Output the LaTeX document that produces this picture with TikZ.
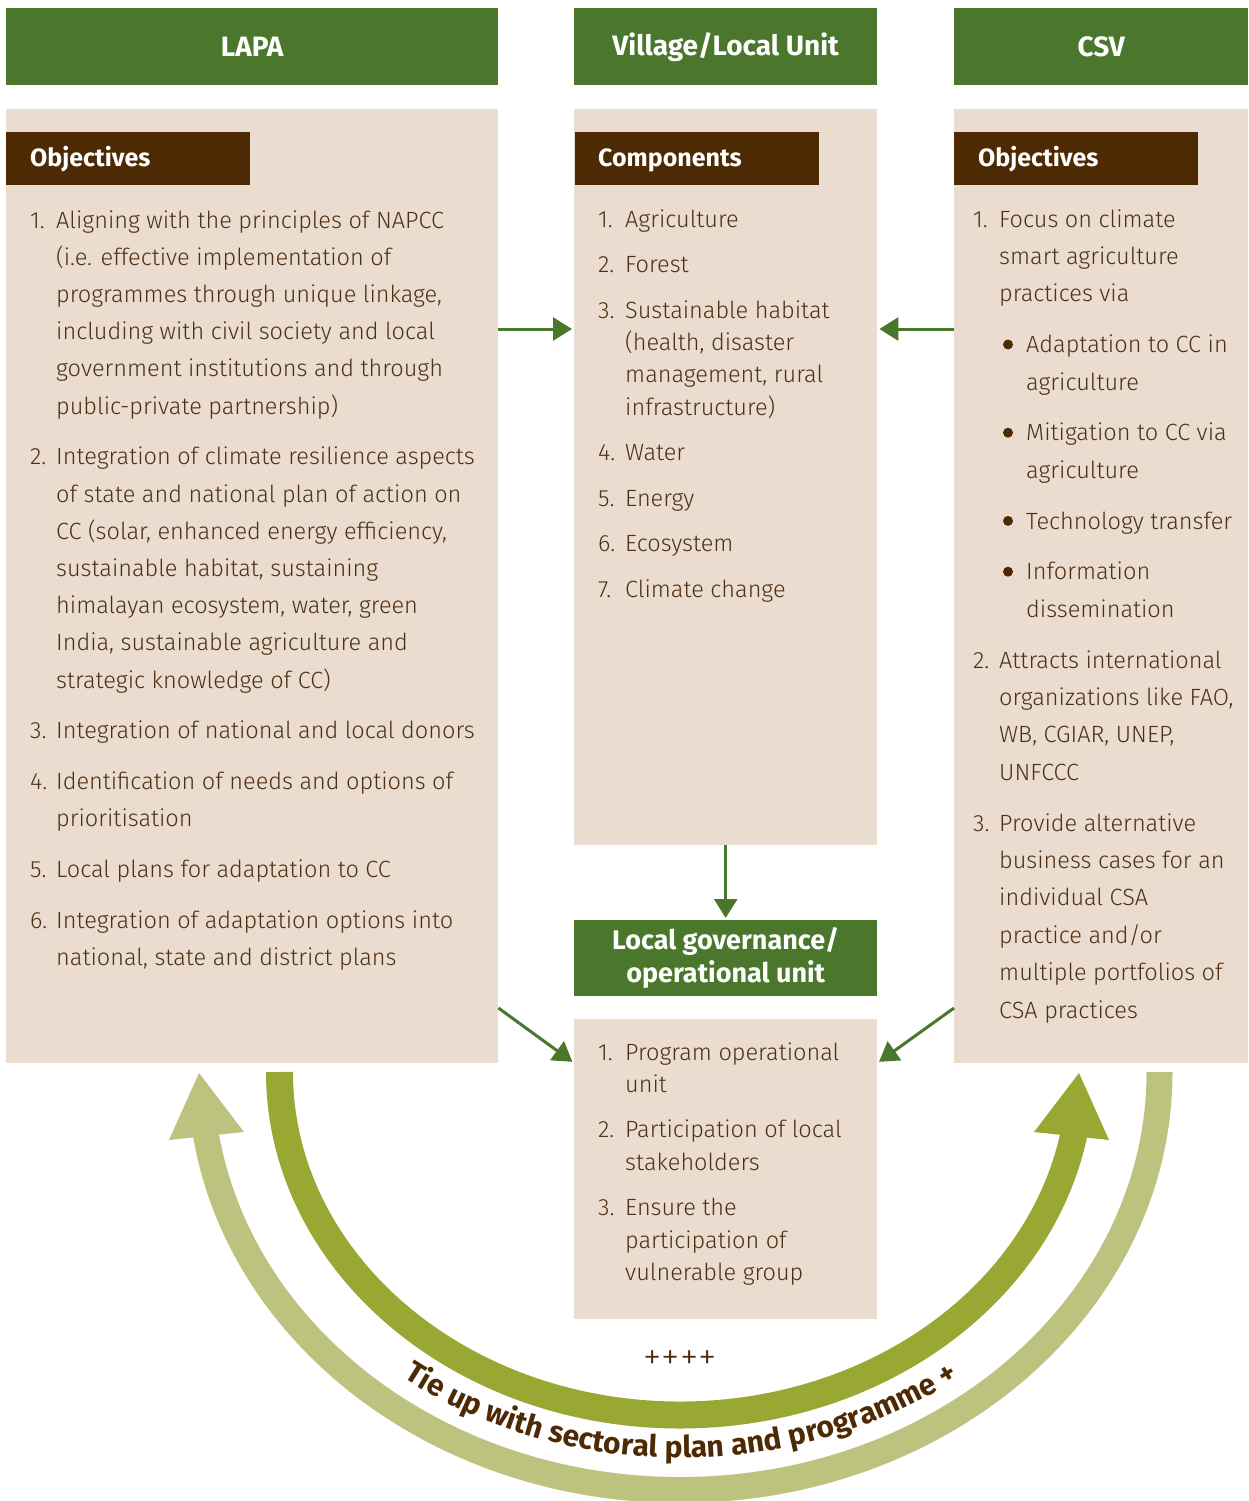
\documentclass[tikz,border=0pt]{standalone}
\usepackage{fontspec}
\setmainfont{Fira Sans}
\IfFontExistsTF{Fira Sans Light}{\newfontfamily\lightfont{Fira Sans Light}\definecolor{bodytxt}{HTML}{4F3014}}{\newcommand\lightfont{}\definecolor{bodytxt}{HTML}{5E3E20}}
\usetikzlibrary{arrows.meta,decorations.text,calc}
\definecolor{hdr}{HTML}{4B772D}
\definecolor{beige}{HTML}{EADCCF}
\definecolor{lbl}{HTML}{4E2A04}
\definecolor{arcA}{HTML}{99A733}
\definecolor{arcB}{HTML}{BDC37F}
\newcommand\numbx[1]{\makebox[26pt][l]{#1}}
\newcommand\numby[1]{\makebox[27pt][l]{#1}}
\newcommand\bulx{\makebox[27pt][l]{}}
\begin{document}
\begin{tikzpicture}[x=1pt,y=-1pt,
  hbox/.style={fill=hdr,inner sep=0,anchor=north west,text=white,font=\fontsize{28}{33}\selectfont\bfseries,align=center},
  panel/.style={fill=beige,inner sep=0,anchor=north west},
  tag/.style={fill=lbl,inner sep=0,anchor=north west,minimum width=244pt,minimum height=53pt},
  tagtxt/.style={text=white,font=\fontsize{25}{25}\selectfont\bfseries,anchor=base west,inner sep=0},
  lst/.style={text=bodytxt,anchor=base west,inner sep=0},
  bul/.style={fill=lbl},
  conn/.style={draw=hdr,line width=3pt,-{Triangle[length=19pt,width=23pt]},shorten >=2pt}]
\useasboundingbox (0,0) rectangle (1248,1501);

% headers
\node[hbox,minimum width=492pt,minimum height=77pt] (lapaH) at (6,8) {LAPA};
\node[hbox,minimum width=303pt,minimum height=77pt] (vilH) at (574,8) {Village/Local Unit};
\node[hbox,minimum width=294pt,minimum height=77pt] (csvH) at (954,8) {CSV};

% panels
\node[panel,minimum width=492pt,minimum height=954pt] (lapaP) at (6,109) {};
\node[panel,minimum width=303pt,minimum height=736pt] (vilP) at (574,109) {};
\node[panel,minimum width=294pt,minimum height=954pt] (csvP) at (954,109) {};
\node[hbox,minimum width=303pt,minimum height=76pt,font=\fontsize{27}{33}\selectfont\bfseries] (lgH) at (574,920) {Local governance/\\operational unit};
\node[panel,minimum width=303pt,minimum height=300pt] (lgP) at (574,1019) {};

% tags
\node[tag] (lapaT) at (6,132) {};
\node[tagtxt] (lapaTt) at (30,166) {Objectives};
\node[tag] (vilT) at (575,132) {};
\node[tagtxt] (vilTt) at (598,166) {Components};
\node[tag] (csvT) at (954,132) {};
\node[tagtxt] (csvTt) at (978,166) {Objectives};

% lists
\node[lst,font=\lightfont\fontsize{23.5}{37.2}\selectfont] (lapaL) at (30,228) {\begin{tabular}[t]{@{}l@{}l@{}}
\numbx{1.} & Aligning with the principles of NAPCC\\
& (i.e. effective implementation of\\
& programmes through unique linkage,\\
& including with civil society and local\\
& government institutions and through\\
& public-private partnership)\\[13.6pt]
\numbx{2.} & Integration of climate resilience aspects\\
& of state and national plan of action on\\
& CC (solar, enhanced energy efficiency,\\
& sustainable habitat, sustaining\\
& himalayan ecosystem, water, green\\
& India, sustainable agriculture and\\
& strategic knowledge of CC)\\[13.6pt]
\numbx{3.} & Integration of national and local donors\\[13.6pt]
\numbx{4.} & Identification of needs and options of\\
& prioritisation\\[13.6pt]
\numbx{5.} & Local plans for adaptation to CC\\[13.6pt]
\numbx{6.} & Integration of adaptation options into\\
& national, state and district plans
\end{tabular}};

\node[lst,font=\lightfont\fontsize{23.5}{32.4}\selectfont] (vilL) at (598,227) {\begin{tabular}[t]{@{}l@{}l@{}}
\numby{1.} & Agriculture\\[13.1pt]
\numby{2.} & Forest\\[13.1pt]
\numby{3.} & Sustainable habitat\\
& (health, disaster\\
& management, rural\\
& infrastructure)\\[13.1pt]
\numby{4.} & Water\\[13.1pt]
\numby{5.} & Energy\\[13.1pt]
\numby{6.} & Ecosystem\\[13.1pt]
\numby{7.} & Climate change
\end{tabular}};

\node[lst,font=\lightfont\fontsize{23.5}{37.4}\selectfont] (csvL) at (973,227) {\begin{tabular}[t]{@{}l@{}l@{}l@{}}
\numbx{1.} & \multicolumn{2}{@{}l@{}}{Focus on climate}\\
& \multicolumn{2}{@{}l@{}}{smart agriculture}\\
& \multicolumn{2}{@{}l@{}}{practices via}\\[13.4pt]
& \bulx & Adaptation to CC in\\
& & agriculture\\[13.4pt]
& \bulx & Mitigation to CC via\\
& & agriculture\\[13.4pt]
& \bulx & Technology transfer\\[13.4pt]
& \bulx & Information\\
& & dissemination\\[13.4pt]
\numbx{2.} & \multicolumn{2}{@{}l@{}}{Attracts international}\\
& \multicolumn{2}{@{}l@{}}{organizations like FAO,}\\
& \multicolumn{2}{@{}l@{}}{WB, CGIAR, UNEP,}\\
& \multicolumn{2}{@{}l@{}}{UNFCCC}\\[13.4pt]
\numbx{3.} & \multicolumn{2}{@{}l@{}}{Provide alternative}\\
& \multicolumn{2}{@{}l@{}}{business cases for an}\\
& \multicolumn{2}{@{}l@{}}{individual CSA}\\
& \multicolumn{2}{@{}l@{}}{practice and/or}\\
& \multicolumn{2}{@{}l@{}}{multiple portfolios of}\\
& \multicolumn{2}{@{}l@{}}{CSA practices}
\end{tabular}};
% bullets
\fill[bul] (1008,344.5) circle[radius=5pt];
\fill[bul] (1008,432.7) circle[radius=5pt];
\fill[bul] (1008,520.9) circle[radius=5pt];
\fill[bul] (1008,571.7) circle[radius=5pt];

\node[lst,font=\lightfont\fontsize{23.5}{32.4}\selectfont] (lgL) at (598,1060) {\begin{tabular}[t]{@{}l@{}l@{}}
\numby{1.} & Program operational\\
& unit\\[13.1pt]
\numby{2.} & Participation of local\\
& stakeholders\\[13.1pt]
\numby{3.} & Ensure the\\
& participation of\\
& vulnerable group
\end{tabular}};

% connectors
\coordinate (r1) at (0,329);
\coordinate (d1) at (0,1008);
\coordinate (d2) at (0,1063);
\draw[conn] (lapaP.east |- r1) -- (vilP.west |- r1);
\draw[conn] (csvP.west |- r1) -- (vilP.east |- r1);
\draw[conn] (vilP.south) -- (lgH.north);
\draw[conn] (lapaP.east |- d1) -- (lgP.west |- d2);
\draw[conn] (csvP.west |- d1) -- (lgP.east |- d2);

% big arcs
\draw[line width=27pt,arcA] (279.5,1072) arc[start angle=180,end angle=352,x radius=400.5pt,y radius=343pt];
\fill[arcA] (1079,1073) -- (1034,1132) -- (1109,1140) -- cycle;
\draw[line width=26pt,arcB] (1159.5,1072) arc[start angle=0,end angle=-174,x radius=479.5pt,y radius=418pt];
\fill[arcB] (199,1073) -- (169,1140) -- (244,1132) -- cycle;

\node[text=lbl,font=\lightfont\fontsize{37}{37}\selectfont,inner sep=0] (plus) at (680,1360) {++++};

\path[decorate,decoration={text along path,text align=center,
  text={|\fontsize{30}{30}\selectfont\bfseries\color{lbl}|Tie up with sectoral plan and programme +}}]
  (252.4,1203.7) arc[start angle=200,end angle=340,x radius=456pt,y radius=386pt];
\end{tikzpicture}
\end{document}
